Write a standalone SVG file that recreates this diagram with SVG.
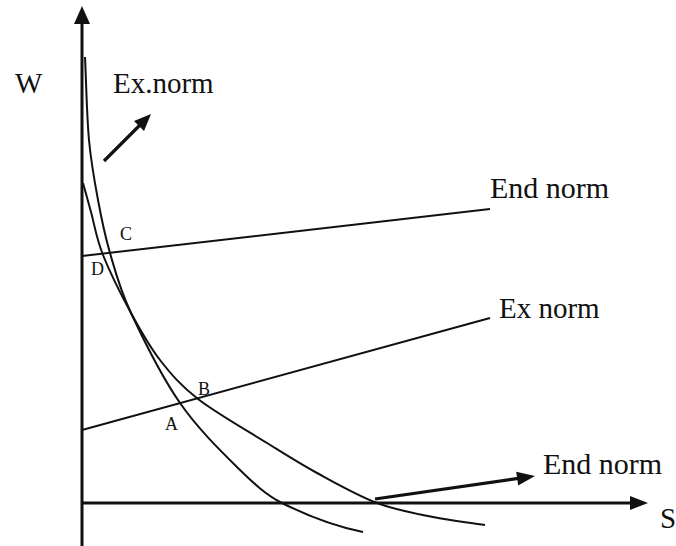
<svg xmlns="http://www.w3.org/2000/svg" width="676" height="546" viewBox="0 0 676 546">
<style>
text{font-family:"Liberation Serif","Times New Roman",serif;fill:#111}
.big{font-size:29px}
.pt{font-size:18px}
.ax{stroke:#111;stroke-width:3;fill:none}
.cv{stroke:#111;stroke-width:2;fill:none}
.ln{stroke:#111;stroke-width:2;fill:none}
.ar{stroke:#111;stroke-width:3.2;fill:none}
.hd{fill:#111;stroke:none}
</style>
<rect width="676" height="546" fill="#fff"/>
<g id="axes">
<line class="ax" x1="82" y1="546" x2="82" y2="20"/>
<polygon class="hd" points="82,6 74,24 90,24"/>
<line class="ax" x1="82" y1="503" x2="634" y2="503"/>
<polygon class="hd" points="648,503 630,496 630,510"/>
<text class="big" x="15" y="93">W</text>
<text class="big" x="660" y="528">S</text>
</g>
<g id="curve-steep">
<path class="cv" d="M85,57 C86.3,84.7 86.8,116.2 89,140 C91.2,163.8 94.5,181.2 98,200 C101.5,218.8 104.5,234.2 110,253 C115.5,271.8 119.3,288 131,313 C145.4,343.8 160.6,375.1 180,403 C197.1,427.6 218.6,449 240,470 C252.9,482.6 265.9,494.9 282,503 C307.9,516 334.6,526.3 363,532"/>
</g>
<g id="curve-flat">
<path class="cv" d="M83,183 C85.7,192.7 87.7,200 91,212 C94.3,224 96.3,238.2 103,255 C109.7,271.8 121.5,295.5 131,313 C140.5,330.5 148.8,345.7 160,360 C171.2,374.3 180.2,385.2 198,399 C215.8,412.8 247.2,430.7 267,443 C286.8,455.3 298.7,463 317,473 C335.3,483 357.7,495.7 377,503 C396.3,510.3 415,513.3 433,517 C451,520.7 467.7,522.3 485,525"/>
</g>
<g id="end-norm-line">
<line class="ln" x1="82" y1="256" x2="490" y2="209"/>
<text class="big" x="490" y="198" style="font-size:30px">End norm</text>
</g>
<g id="ex-norm-line">
<line class="ln" x1="82" y1="430" x2="490" y2="318"/>
<text class="big" x="499" y="318">Ex norm</text>
</g>
<g id="points">
<text class="pt" x="165" y="430">A</text>
<text class="pt" x="198" y="395">B</text>
<text class="pt" x="120" y="240">C</text>
<text class="pt" x="91" y="275">D</text>
</g>
<g id="connectors">
<line class="ar" x1="104" y1="161" x2="141" y2="124"/>
<polygon class="hd" points="151,114 144,131 134,121"/>
<line class="ar" x1="375" y1="499" x2="520" y2="478.2"/>
<polygon class="hd" points="535,476 518.2,485.5 516.2,471.7"/>
</g>
<g id="labels">
<text class="big" x="113" y="93">Ex.norm</text>
<text class="big" x="543" y="474" style="font-size:30px">End norm</text>
</g>
</svg>
